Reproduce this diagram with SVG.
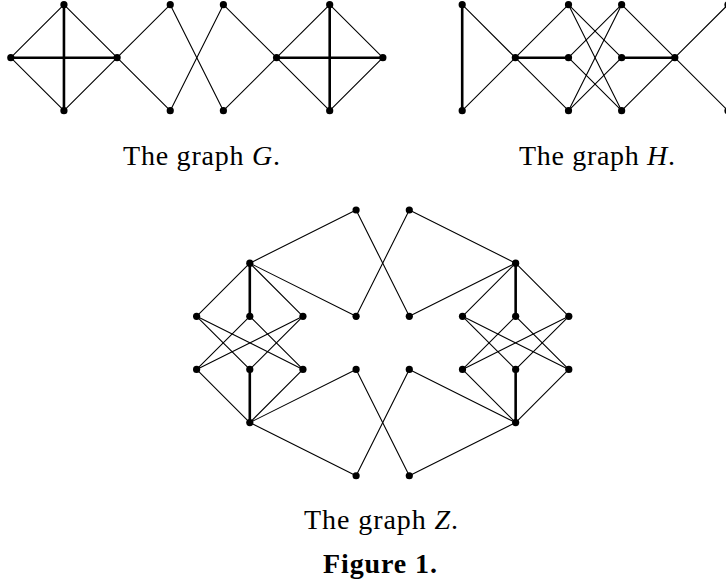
<svg xmlns="http://www.w3.org/2000/svg" width="726" height="582" viewBox="0 0 726 582">
<style>
.e{stroke:#000;stroke-width:1.1;fill:none;stroke-linecap:round}
.t{stroke:#000;stroke-width:2.6;fill:none;stroke-linecap:round}
.n{fill:#000}
.lbl{font-family:"Liberation Serif","Times New Roman",serif;font-size:28px;fill:#000}
.it{font-style:italic}
.b{font-weight:bold}
</style>
<rect width="726" height="582" fill="#fff"/>
<g id="connectors">
<!-- Graph G -->
<line class="e" x1="10.8" y1="57.7" x2="63.95" y2="4.7"/>
<line class="e" x1="10.8" y1="57.7" x2="63.95" y2="110.7"/>
<line class="e" x1="63.95" y1="4.7" x2="117.1" y2="57.7"/>
<line class="e" x1="63.95" y1="110.7" x2="117.1" y2="57.7"/>
<line class="t" x1="10.8" y1="57.7" x2="117.1" y2="57.7"/>
<line class="t" x1="63.95" y1="4.7" x2="63.95" y2="110.7"/>
<line class="e" x1="117.1" y1="57.7" x2="170.25" y2="4.7"/>
<line class="e" x1="117.1" y1="57.7" x2="170.25" y2="110.7"/>
<line class="e" x1="170.25" y1="4.7" x2="223.4" y2="110.7"/>
<line class="e" x1="170.25" y1="110.7" x2="223.4" y2="4.7"/>
<line class="e" x1="223.4" y1="4.7" x2="276.55" y2="57.7"/>
<line class="e" x1="223.4" y1="110.7" x2="276.55" y2="57.7"/>
<line class="e" x1="276.55" y1="57.7" x2="329.7" y2="4.7"/>
<line class="e" x1="276.55" y1="57.7" x2="329.7" y2="110.7"/>
<line class="e" x1="329.7" y1="4.7" x2="382.85" y2="57.7"/>
<line class="e" x1="329.7" y1="110.7" x2="382.85" y2="57.7"/>
<line class="t" x1="276.55" y1="57.7" x2="382.85" y2="57.7"/>
<line class="t" x1="329.7" y1="4.7" x2="329.7" y2="110.7"/>
<!-- Graph H -->
<line class="t" x1="462.2" y1="4.7" x2="462.2" y2="110.7"/>
<line class="e" x1="462.2" y1="4.7" x2="515.35" y2="57.7"/>
<line class="e" x1="462.2" y1="110.7" x2="515.35" y2="57.7"/>
<line class="e" x1="515.35" y1="57.7" x2="568.5" y2="4.7"/>
<line class="t" x1="515.35" y1="57.7" x2="568.5" y2="57.7"/>
<line class="e" x1="515.35" y1="57.7" x2="568.5" y2="110.7"/>
<line class="e" x1="568.5" y1="4.7" x2="621.65" y2="57.7"/>
<line class="e" x1="568.5" y1="4.7" x2="621.65" y2="110.7"/>
<line class="e" x1="568.5" y1="57.7" x2="621.65" y2="4.7"/>
<line class="e" x1="568.5" y1="57.7" x2="621.65" y2="110.7"/>
<line class="e" x1="568.5" y1="110.7" x2="621.65" y2="4.7"/>
<line class="e" x1="568.5" y1="110.7" x2="621.65" y2="57.7"/>
<line class="e" x1="621.65" y1="4.7" x2="674.8" y2="57.7"/>
<line class="t" x1="621.65" y1="57.7" x2="674.8" y2="57.7"/>
<line class="e" x1="621.65" y1="110.7" x2="674.8" y2="57.7"/>
<line class="e" x1="674.8" y1="57.7" x2="727.95" y2="4.7"/>
<line class="e" x1="674.8" y1="57.7" x2="727.95" y2="110.7"/>
<!-- Graph Z left block -->
<line class="e" x1="249.8" y1="263.15" x2="196.6" y2="316.3"/>
<line class="t" x1="249.8" y1="263.15" x2="249.8" y2="316.3"/>
<line class="e" x1="249.8" y1="263.15" x2="302.95" y2="316.3"/>
<line class="e" x1="249.8" y1="422.6" x2="196.6" y2="369.45"/>
<line class="t" x1="249.8" y1="422.6" x2="249.8" y2="369.45"/>
<line class="e" x1="249.8" y1="422.6" x2="302.95" y2="369.45"/>
<line class="e" x1="196.6" y1="316.3" x2="249.8" y2="369.45"/>
<line class="e" x1="196.6" y1="316.3" x2="302.95" y2="369.45"/>
<line class="e" x1="249.8" y1="316.3" x2="196.6" y2="369.45"/>
<line class="e" x1="249.8" y1="316.3" x2="302.95" y2="369.45"/>
<line class="e" x1="302.95" y1="316.3" x2="196.6" y2="369.45"/>
<line class="e" x1="302.95" y1="316.3" x2="249.8" y2="369.45"/>
<!-- Graph Z right block -->
<line class="e" x1="515.65" y1="263.15" x2="462.5" y2="316.3"/>
<line class="t" x1="515.65" y1="263.15" x2="515.65" y2="316.3"/>
<line class="e" x1="515.65" y1="263.15" x2="568.8" y2="316.3"/>
<line class="e" x1="515.65" y1="422.6" x2="462.5" y2="369.45"/>
<line class="t" x1="515.65" y1="422.6" x2="515.65" y2="369.45"/>
<line class="e" x1="515.65" y1="422.6" x2="568.8" y2="369.45"/>
<line class="e" x1="462.5" y1="316.3" x2="515.65" y2="369.45"/>
<line class="e" x1="462.5" y1="316.3" x2="568.8" y2="369.45"/>
<line class="e" x1="515.65" y1="316.3" x2="462.5" y2="369.45"/>
<line class="e" x1="515.65" y1="316.3" x2="568.8" y2="369.45"/>
<line class="e" x1="568.8" y1="316.3" x2="462.5" y2="369.45"/>
<line class="e" x1="568.8" y1="316.3" x2="515.65" y2="369.45"/>
<!-- Graph Z top and bottom bridges -->
<line class="e" x1="249.8" y1="263.15" x2="356.1" y2="210"/>
<line class="e" x1="249.8" y1="263.15" x2="356.1" y2="316.3"/>
<line class="e" x1="356.1" y1="210" x2="409.3" y2="316.3"/>
<line class="e" x1="356.1" y1="316.3" x2="409.3" y2="210"/>
<line class="e" x1="409.3" y1="210" x2="515.65" y2="263.15"/>
<line class="e" x1="409.3" y1="316.3" x2="515.65" y2="263.15"/>
<line class="e" x1="249.8" y1="422.6" x2="356.1" y2="369.45"/>
<line class="e" x1="249.8" y1="422.6" x2="356.1" y2="475.75"/>
<line class="e" x1="356.1" y1="369.45" x2="409.3" y2="475.75"/>
<line class="e" x1="356.1" y1="475.75" x2="409.3" y2="369.45"/>
<line class="e" x1="409.3" y1="369.45" x2="515.65" y2="422.6"/>
<line class="e" x1="409.3" y1="475.75" x2="515.65" y2="422.6"/>
</g>
<g id="graphG">
<circle id="g1" class="n" cx="10.8" cy="57.7" r="3.6"/>
<circle id="g2" class="n" cx="63.95" cy="4.7" r="3.6"/>
<circle id="g3" class="n" cx="63.95" cy="110.7" r="3.6"/>
<circle id="g4" class="n" cx="117.1" cy="57.7" r="3.6"/>
<circle id="g5" class="n" cx="170.25" cy="4.7" r="3.6"/>
<circle id="g6" class="n" cx="170.25" cy="110.7" r="3.6"/>
<circle id="g7" class="n" cx="223.4" cy="4.7" r="3.6"/>
<circle id="g8" class="n" cx="223.4" cy="110.7" r="3.6"/>
<circle id="g9" class="n" cx="276.55" cy="57.7" r="3.6"/>
<circle id="g10" class="n" cx="329.7" cy="4.7" r="3.6"/>
<circle id="g11" class="n" cx="329.7" cy="110.7" r="3.6"/>
<circle id="g12" class="n" cx="382.85" cy="57.7" r="3.6"/>
</g>
<g id="graphH">
<circle id="h1" class="n" cx="462.2" cy="4.7" r="3.6"/>
<circle id="h2" class="n" cx="462.2" cy="110.7" r="3.6"/>
<circle id="h3" class="n" cx="515.35" cy="57.7" r="3.6"/>
<circle id="h4" class="n" cx="568.5" cy="4.7" r="3.6"/>
<circle id="h5" class="n" cx="568.5" cy="57.7" r="3.6"/>
<circle id="h6" class="n" cx="568.5" cy="110.7" r="3.6"/>
<circle id="h7" class="n" cx="621.65" cy="4.7" r="3.6"/>
<circle id="h8" class="n" cx="621.65" cy="57.7" r="3.6"/>
<circle id="h9" class="n" cx="621.65" cy="110.7" r="3.6"/>
<circle id="h10" class="n" cx="674.8" cy="57.7" r="3.6"/>
<circle id="h11" class="n" cx="727.95" cy="4.7" r="3.6"/>
<circle id="h12" class="n" cx="727.95" cy="110.7" r="3.6"/>
</g>
<g id="graphZ">
<circle id="z1" class="n" cx="356.1" cy="210" r="3.6"/>
<circle id="z2" class="n" cx="409.3" cy="210" r="3.6"/>
<circle id="z3" class="n" cx="249.8" cy="263.15" r="3.6"/>
<circle id="z4" class="n" cx="515.65" cy="263.15" r="3.6"/>
<circle id="z5" class="n" cx="196.6" cy="316.3" r="3.6"/>
<circle id="z6" class="n" cx="249.8" cy="316.3" r="3.6"/>
<circle id="z7" class="n" cx="302.95" cy="316.3" r="3.6"/>
<circle id="z8" class="n" cx="356.1" cy="316.3" r="3.6"/>
<circle id="z9" class="n" cx="409.3" cy="316.3" r="3.6"/>
<circle id="z10" class="n" cx="462.5" cy="316.3" r="3.6"/>
<circle id="z11" class="n" cx="515.65" cy="316.3" r="3.6"/>
<circle id="z12" class="n" cx="568.8" cy="316.3" r="3.6"/>
<circle id="z13" class="n" cx="196.6" cy="369.45" r="3.6"/>
<circle id="z14" class="n" cx="249.8" cy="369.45" r="3.6"/>
<circle id="z15" class="n" cx="302.95" cy="369.45" r="3.6"/>
<circle id="z16" class="n" cx="356.1" cy="369.45" r="3.6"/>
<circle id="z17" class="n" cx="409.3" cy="369.45" r="3.6"/>
<circle id="z18" class="n" cx="462.5" cy="369.45" r="3.6"/>
<circle id="z19" class="n" cx="515.65" cy="369.45" r="3.6"/>
<circle id="z20" class="n" cx="568.8" cy="369.45" r="3.6"/>
<circle id="z21" class="n" cx="249.8" cy="422.6" r="3.6"/>
<circle id="z22" class="n" cx="515.65" cy="422.6" r="3.6"/>
<circle id="z23" class="n" cx="356.1" cy="475.75" r="3.6"/>
<circle id="z24" class="n" cx="409.3" cy="475.75" r="3.6"/>
</g>
<g id="labels">
<text class="lbl" x="123" y="164.5" textLength="157" lengthAdjust="spacing">The graph <tspan class="it">G</tspan>.</text>
<text class="lbl" x="519" y="164.5" textLength="156" lengthAdjust="spacing">The graph <tspan class="it">H</tspan>.</text>
<text class="lbl" x="304" y="529" textLength="154" lengthAdjust="spacing">The graph <tspan class="it">Z</tspan>.</text>
<text class="lbl b" x="323" y="573" textLength="114" lengthAdjust="spacing">Figure 1.</text>
</g>
</svg>
